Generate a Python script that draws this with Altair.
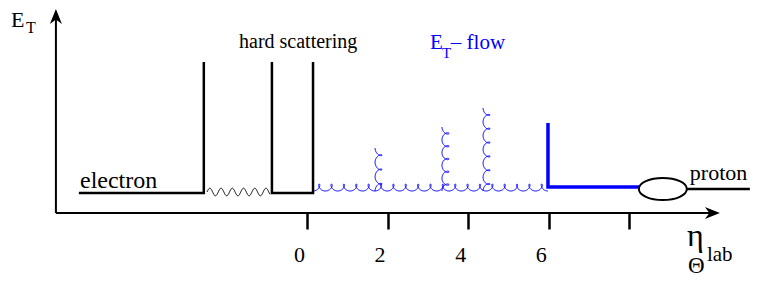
import numpy as np
import pandas as pd
import altair as alt

FONT = "Liberation Serif, Times New Roman, serif"
BLUE = "#0000ff"
W, H = 742, 271
X_DOMAIN = [-7.419, 10.993]   # eta_lab
Y_DOMAIN = [-6.6, 20.5]       # E_T (arbitrary units)

# ---- values (eta, E_T) ----
tick_values = [0, 2, 4, 6, 8]
tick_labels = ["0", "2", "4", "6", ""]

electron_x = [-5.66, -2.56, -2.56]
electron_y = [2.0, 2.0, 15.1]
hard_x = [-0.87, -0.87, 0.15, 0.15]
hard_y = [15.1, 2.0, 2.0, 15.1]
proton_x = [9.43, 10.99]
proton_y = [2.4, 2.4]
flow_x = [5.98, 5.98, 8.26]
flow_y = [9.0, 2.6, 2.6]
vaxis_x = [-6.23, -6.23]
vaxis_y = [19.9, 0.0]
haxis_x = [-6.23, 10.1]
haxis_y = [0.0, 0.0]
remnant_x = [8.83]
remnant_y = [2.4]
arrow_up = ([-6.23], [19.65])
arrow_right = ([10.06], [0.0])

photon_span = [-2.48, -0.92]
photon_level = 2.1
photon_waves = 5.6

gluon_span = [0.15, 5.98]
gluon_level = 2.2
gluon_loops = 19
branch_x = [1.69, 3.35, 4.37]
branch_top = [6.5, 8.6, 10.5]
branch_loops = [3, 5, 6]

labels_text = ["E", "T", "hard scattering", "E", "T", "\u2013 flow", "electron", "proton", "\u03b7", "lab", "\u0398"]
labels_x = [-7.345, -6.97, -1.687, 3.05, 3.35, 3.57, -5.633, 9.50, 9.43, 9.925, 9.454]
labels_y = [18.6, 18.0, 16.5, 16.4, 15.5, 16.4, 2.5, 3.3, -3.3, -4.8, -6.0]
labels_size = [22, 16, 20, 21, 15, 21, 24, 22, 32, 21, 23]
labels_color = ["black", "black", "black", BLUE, BLUE, BLUE, "black", "black", "black", "black", "black"]

# ---- glyph geometry (curl / wave drawing) ----
PX_X = 1 / 40.3   # one screen pixel in eta units
PX_Y = 1 / 10.0   # one screen pixel in E_T units


def poly(name, xs, ys):
    return pd.DataFrame({"seg": name, "i": range(len(xs)), "x": xs, "y": ys})


def gluon_h(name, x0, x1, level, n):
    t = np.linspace(0, 2 * np.pi * n, 48 * n + 1)
    c = (x1 - x0) / (2 * np.pi * n)
    x = x0 + c * t + 3.0 * PX_X * np.sin(t)
    y = level + 7.0 * PX_Y * (1 - np.cos(t)) / 2
    return poly(name, x, y)


def gluon_v(name, xs, y0, y1, n):
    t = np.linspace(0, 2 * np.pi * n, 48 * n + 1)
    c = (y1 - y0) / (2 * np.pi * n)
    y = y0 + c * t + 3.2 * PX_Y * np.sin(t)
    x = xs + 7.0 * PX_X * (1 - np.cos(t)) / 2
    return poly(name, x, y)


def photon(name, x0, x1, level, waves):
    t = np.linspace(0, 1, 200)
    x = x0 + (x1 - x0) * t
    y = level + 3.8 * PX_Y * np.sin(2 * np.pi * waves * t)
    return poly(name, x, y)


xs = alt.Scale(domain=X_DOMAIN, nice=False, zero=False)
ys = alt.Scale(domain=Y_DOMAIN, nice=False, zero=False)
label_expr = "[" + ",".join("'%s'" % s for s in tick_labels) + "][indexof(%s, datum.value)]" % str(tick_values)
xaxis = alt.Axis(values=tick_values, orient="bottom", offset=-66, domain=False, grid=False,
                 tickSize=16, tickWidth=2.5, tickColor="black", labelFont=FONT,
                 labelFontSize=22, labelColor="black", labelPadding=15, labelOffset=-8,
                 labelOverlap=False, labelExpr=label_expr, title=None, labelAngle=0)


def X():
    return alt.X("x:Q", scale=xs, axis=xaxis)


def Y():
    return alt.Y("y:Q", scale=ys, axis=None)


def lines(df, color, width):
    return alt.Chart(df).mark_line(color=color, strokeWidth=width, strokeCap="butt",
                                   strokeJoin="miter", clip=True).encode(
        x=X(), y=Y(), detail="seg:N", order="i:Q")


black_df = pd.concat([poly("e", electron_x, electron_y), poly("h", hard_x, hard_y),
                      poly("p", proton_x, proton_y)])
axis_df = pd.concat([poly("v", vaxis_x, vaxis_y), poly("hx", haxis_x, haxis_y)])
flow_df = poly("f", flow_x, flow_y)
gl = [gluon_h("g0", gluon_span[0], gluon_span[1], gluon_level, gluon_loops)]
for k, (bx, bt, bn) in enumerate(zip(branch_x, branch_top, branch_loops)):
    gl.append(gluon_v("b%d" % k, bx, gluon_level, bt, bn))
gluon_df = pd.concat(gl)
photon_df = photon("ph", photon_span[0], photon_span[1], photon_level, photon_waves)

ellipse = alt.Chart(pd.DataFrame({"x": remnant_x, "y": remnant_y})).mark_point(
    shape="M -1 0 A 1 0.46 0 1 1 1 0 A 1 0.46 0 1 1 -1 0 Z", size=2304,
    filled=False, color="black", strokeWidth=2, opacity=1).encode(x=X(), y=Y())

up = alt.Chart(pd.DataFrame({"x": arrow_up[0], "y": arrow_up[1]})).mark_point(
    shape="M -1 1.25 L 0 -1.25 L 1 1.25 L 0 0.5 Z", size=144, filled=True,
    color="black", opacity=1).encode(x=X(), y=Y())
right = alt.Chart(pd.DataFrame({"x": arrow_right[0], "y": arrow_right[1]})).mark_point(
    shape="M -1.25 -1 L 1.25 0 L -1.25 1 L -0.5 0 Z", size=144, filled=True,
    color="black", opacity=1).encode(x=X(), y=Y())

text_df = pd.DataFrame({"x": labels_x, "y": labels_y, "t": labels_text,
                        "fs": labels_size, "col": labels_color})
texts = alt.Chart(text_df).mark_text(font=FONT, align="left", baseline="alphabetic").encode(
    x=X(), y=Y(), text="t:N",
    size=alt.Size("fs:Q", scale=None),
    color=alt.Color("col:N", scale=None))

chart = alt.layer(
    lines(axis_df, "black", 2),
    up, right,
    lines(photon_df, "black", 1),
    lines(gluon_df, BLUE, 1),
    lines(black_df, "black", 2.5),
    lines(flow_df, BLUE, 3.5),
    ellipse,
    texts,
).properties(width=W, height=H, padding=0, autosize=alt.AutoSizeParams(type="none")
).configure_view(stroke=None)

chart.save("out.html", embed_options={"renderer": "svg", "actions": False})
